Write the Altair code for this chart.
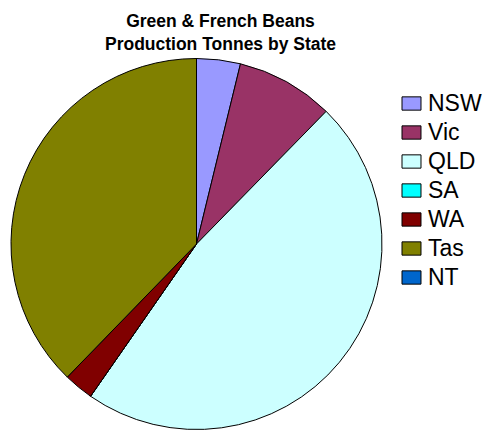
import altair as alt
import pandas as pd

states = ["NSW", "Vic", "QLD", "SA", "WA", "Tas", "NT"]
tonnes = [1030, 2300, 12800, 0, 700, 10200, 0]
colors = ["#9999FF", "#993366", "#CCFFFF", "#00FFFF", "#800000", "#808000", "#0066CC"]

df = pd.DataFrame({"State": states, "Tonnes": tonnes, "idx": list(range(len(states)))})

chart = alt.Chart(df).mark_arc(
    outerRadius=185.5, stroke="black", strokeWidth=1
).encode(
    theta=alt.Theta("Tonnes:Q", stack=True),
    order=alt.Order("idx:Q"),
    x=alt.value(196.5),
    y=alt.value(186),
    color=alt.Color(
        "State:N",
        sort=states,
        scale=alt.Scale(domain=states, range=colors),
        legend=alt.Legend(
            title=None,
            orient="none",
            legendX=400,
            legendY=34,
            symbolType="M-1,-0.7H1V0.7H-1Z",
            symbolSize=360,
            symbolStrokeColor="black",
            symbolStrokeWidth=1,
            symbolOpacity=1,
            labelFont="Liberation Sans",
            labelFontSize=23,
            labelColor="black",
            labelOffset=5,
            rowPadding=5,
        ),
    ),
).properties(
    width=489,
    height=372,
    background="white",
    title=alt.Title(
        ["Green & French Beans", "Production Tonnes by State"],
        font="Liberation Sans",
        fontSize=17.5,
        fontWeight="bold",
        color="black",
        anchor="middle",
        dx=-24,
        offset=3,
        lineHeight=23,
    ),
    autosize=alt.AutoSizeParams(type="none"),
    padding={"left": 0, "top": 58, "right": 0, "bottom": 0},
).configure_view(stroke="transparent", strokeWidth=0)

chart.save("out.html", embed_options={"renderer": "svg", "actions": False})
